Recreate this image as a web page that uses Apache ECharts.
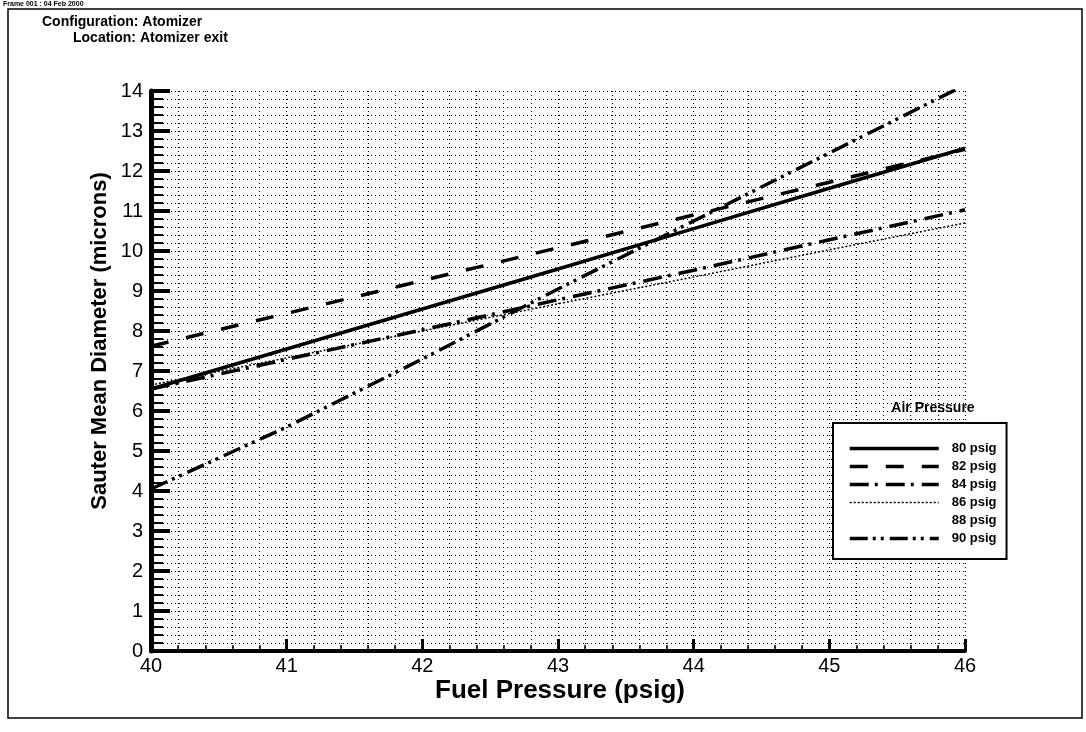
<!DOCTYPE html>
<html>
<head>
<meta charset="utf-8">
<script src="https://cdn.jsdelivr.net/npm/echarts@6/dist/echarts.min.js"></script>
<style>
  html, body { margin: 0; padding: 0; background: #fff; }
  #chart { width: 1086px; height: 732px; }
</style>
</head>
<body>
<div id="chart"></div>
<script>
// fuel pressure (psig) on x, Sauter mean diameter (microns) on y
const fuelPressure = [40, 41, 42, 43, 44, 45, 46];
const smd80 = [6.55, 7.55, 8.55, 9.55, 10.56, 11.57, 12.57];
const smd82 = [7.62, 8.44, 9.26, 10.08, 10.9, 11.72, 12.54];
const smd84 = [6.55, 7.29, 8.03, 8.78, 9.52, 10.28, 11.03];
const smd86 = [6.65, 7.33, 8.0, 8.68, 9.35, 10.03, 10.7];
const smd88 = []; // no visible line in the original
const smd90 = [4.05, 5.6, 7.3, 9.05, 10.75, 12.45, 14.15];
const seriesNames = ['80 psig', '82 psig', '84 psig', '86 psig', '88 psig', '90 psig'];

const pairs = (ys) => ys.map((y, i) => [fuelPressure[i], y]);

const font = 'Liberation Sans, Arial, sans-serif';
const gridDots = { color: '#000', width: 1.1, type: [1, 3] };

// one line style per series, used by the plot and the legend
const styles = [
    { type: 'solid' },
    { type: [18, 18] },
    { type: [19, 6, 3, 8] },
    { type: [2, 2], width: 1.5 },
    { color: 'rgba(0,0,0,0)' },
    { type: [18, 5, 3, 5, 3, 6] }
];
const allData = [smd80, smd82, smd84, smd86, smd88, smd90];

const fullStyle = (s) => Object.assign({ color: '#000', width: 3.5, cap: 'butt' }, s);

var option = {
    animation: false,
    backgroundColor: '#fff',
    grid: { left: 151, right: 121, top: 91, bottom: 81, containLabel: false },
    xAxis: {
        type: 'value',
        min: 40,
        max: 46,
        interval: 1,
        axisLine: { show: true, onZero: false, lineStyle: { color: '#000', width: 4 } },
        axisTick: { show: true, inside: true, length: 12, lineStyle: { color: '#000', width: 3 } },
        minorTick: { show: true, splitNumber: 5, length: 6, lineStyle: { color: '#000', width: 1.5 } },
        splitLine: { show: true, lineStyle: gridDots },
        minorSplitLine: { show: true, lineStyle: gridDots },
        axisLabel: { color: '#000', fontSize: 20, fontFamily: font, margin: 5 }
    },
    yAxis: {
        type: 'value',
        min: 0,
        max: 14,
        interval: 1,
        axisLine: { show: true, onZero: false, lineStyle: { color: '#000', width: 5 } },
        axisTick: { show: true, inside: true, length: 19, lineStyle: { color: '#000', width: 4 } },
        minorTick: { show: true, splitNumber: 5, length: 12, lineStyle: { color: '#000', width: 2 } },
        splitLine: { show: true, lineStyle: gridDots },
        minorSplitLine: { show: true, lineStyle: gridDots },
        axisLabel: { color: '#000', fontSize: 20, fontFamily: font, margin: 8 }
    },
    legend: {
        data: seriesNames.map((n, i) => ({ name: n, lineStyle: fullStyle(styles[i]) })),
        orient: 'vertical',
        left: 833,
        top: 423,
        selectedMode: false,
        backgroundColor: '#fff',
        borderColor: '#000',
        borderWidth: 2,
        borderRadius: 0,
        padding: [19, 10, 14, 15],
        itemWidth: 89,
        itemHeight: 12,
        itemGap: 5,
        itemStyle: { color: 'rgba(0,0,0,0)', borderWidth: 0, opacity: 0 },
        textStyle: { color: '#000', fontSize: 13, fontWeight: 'bold', fontFamily: font, padding: [0, 0, 0, 8] }
    },
    graphic: [
        {
            type: 'rect', silent: true, z: -10,
            shape: { x: 8, y: 9, width: 1074, height: 709 },
            style: { fill: null, stroke: '#000', lineWidth: 1.5 }
        },
        {
            type: 'text', left: 3, top: 1,
            style: { text: 'Frame 001 : 04 Feb 2000', fontSize: 7, fontWeight: 'bold', fontFamily: font, fill: '#000' }
        },
        {
            type: 'text', left: 42, top: 15,
            style: { text: 'Configuration: Atomizer', fontSize: 14, fontWeight: 'bold', fontFamily: font, fill: '#000' }
        },
        {
            type: 'text', left: 73, top: 31,
            style: { text: 'Location: Atomizer exit', fontSize: 14, fontWeight: 'bold', fontFamily: font, fill: '#000' }
        },
        {
            type: 'text', x: 933, y: 408,
            style: { text: 'Air Pressure', fontSize: 14, fontWeight: 'bold', fontFamily: font, fill: '#000', align: 'center', verticalAlign: 'middle' }
        },
        {
            type: 'text', x: 100, y: 341, rotation: Math.PI / 2,
            style: { text: 'Sauter Mean Diameter (microns)', fontSize: 22, fontWeight: 'bold', fontFamily: font, fill: '#000', align: 'center', verticalAlign: 'middle' }
        },
        {
            type: 'text', x: 560, y: 691,
            style: { text: 'Fuel Pressure (psig)', fontSize: 26, fontWeight: 'bold', fontFamily: font, fill: '#000', align: 'center', verticalAlign: 'middle' }
        }
    ],
    series: seriesNames.map((n, i) => ({
        name: n,
        type: 'line',
        data: pairs(allData[i]),
        symbol: 'none',
        itemStyle: { color: '#000' },
        lineStyle: fullStyle(styles[i]),
        z: 5
    }))
};

let myChart = echarts.init(document.getElementById('chart'));
myChart.setOption(option);
</script>
</body>
</html>
